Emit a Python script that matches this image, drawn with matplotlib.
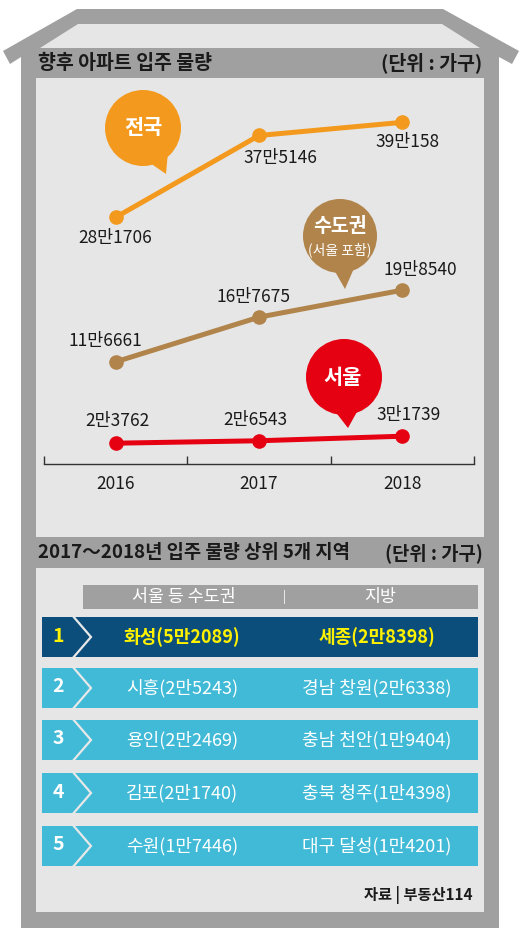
import matplotlib
matplotlib.use('Agg')
import matplotlib.pyplot as plt
from matplotlib.patches import Polygon, Rectangle, Circle

plt.rcParams['font.family'] = ['Noto Sans CJK KR', 'DejaVu Sans']

# data
years = ['2016', '2017', '2018']
nationwide = [281706, 375146, 390158]
capital = [116661, 167675, 198540]
seoul = [23762, 26543, 31739]

ranks = ['1', '2', '3', '4', '5']
capital_names = ['화성', '시흥', '용인', '김포', '수원']
capital_vals = [52089, 25243, 22469, 21740, 17446]
local_names = ['세종', '경남 창원', '충남 천안', '충북 청주', '대구 달성']
local_vals = [28398, 26338, 19404, 14398, 14201]

GRAY = '#a0a0a0'
LIGHT = '#e6e6e6'
ORANGE = '#f39a1e'
BROWN = '#b0844b'
RED = '#e50012'
DARKBLUE = '#0b4e7c'
LIGHTBLUE = '#40bad6'
YELLOW = '#fff200'


def fmt(v):
    man, rest = divmod(v, 10000)
    return f'{man}만{rest}' if rest else f'{man}만'


W, H = 531, 935
fig = plt.figure(figsize=(W / 100, H / 100), dpi=100)
fig.patch.set_facecolor('white')

bg = fig.add_axes([0, 0, 1, 1])
bg.set_xlim(0, W)
bg.set_ylim(H, 0)
bg.axis('off')

# house frame
bg.add_patch(Polygon([(3, 51), (77, 9), (443, 9), (519, 51), (512, 64), (499, 57),
                      (499, 928), (21, 928), (21, 57), (10, 64)],
                     closed=True, fc=GRAY, ec='none'))
bg.add_patch(Polygon([(40, 48), (78, 24), (442, 24), (480, 48)], closed=True, fc=LIGHT, ec='none'))
bg.add_patch(Rectangle((36, 78), 448, 459, fc=LIGHT, ec='none'))
bg.add_patch(Rectangle((36, 568), 448, 344, fc=LIGHT, ec='none'))

bg.text(38, 63, '향후 아파트 입주 물량', fontsize=14, fontweight='bold', color='#1a1a1a', va='center')
bg.text(482, 63, '(단위 : 가구)', fontsize=14, fontweight='bold', color='#1a1a1a', va='center', ha='right')
bg.text(38, 553, '2017～2018년 입주 물량 상위 5개 지역', fontsize=13.5, fontweight='bold', color='#1a1a1a', va='center')
bg.text(483, 553, '(단위 : 가구)', fontsize=13.5, fontweight='bold', color='#1a1a1a', va='center', ha='right')


# speech bubbles
def bubble(cx, cy, r, tail, color):
    bg.add_patch(Circle((cx, cy), r, fc=color, ec='none'))
    bg.add_patch(Polygon(tail, closed=True, fc=color, ec='none'))


bubble(143, 128, 38, [(150, 163), (166, 174), (168, 152)], ORANGE)
bg.text(143, 128, '전국', fontsize=15, fontweight='bold', color='white', ha='center', va='center')
bubble(340, 236, 37, [(333, 268), (345, 289), (355, 266)], BROWN)
bg.text(340, 227, '수도권', fontsize=14, fontweight='bold', color='white', ha='center', va='center')
bg.text(340, 250, '(서울 포함)', fontsize=10, color='white', ha='center', va='center')
bubble(344, 377, 38, [(334, 410), (348, 428), (358, 410)], RED)
bg.text(343, 378, '서울', fontsize=15, fontweight='bold', color='white', ha='center', va='center')

# line chart
ax = fig.add_axes([44 / W, 1 - 464 / H, 430 / W, 386 / H])
ax.set_facecolor('none')
ax.set_xlim(-0.5, 2.5)
ax.set_ylim(0, 440800)
x = range(len(years))
for vals, c in [(nationwide, ORANGE), (capital, BROWN), (seoul, RED)]:
    ax.plot(x, vals, color=c, lw=3.6, marker='o', ms=9.5, clip_on=False, zorder=3)

offsets = {
    'n': [(0, -21), (21, -23), (5, -20)],
    'c': [(-10, 21), (-6, 20), (18, 20)],
    's': [(2, 22), (-4, 21), (6, 21)],
}
for key, vals in [('n', nationwide), ('c', capital), ('s', seoul)]:
    for i, v in enumerate(vals):
        ax.annotate(fmt(v), (i, v), xytext=offsets[key][i], textcoords='offset pixels',
                    ha='center', va='center', fontsize=12.5, color='#1a1a1a')

for s in ['top', 'left', 'right']:
    ax.spines[s].set_visible(False)
ax.spines['bottom'].set_color('#333333')
ax.spines['bottom'].set_linewidth(1)
ax.set_yticks([])
ax.set_xticks([-0.5, 0.5, 1.5, 2.5])
ax.set_xticklabels([])
ax.tick_params(axis='x', which='major', direction='in', length=5.8, width=1, color='#333333')
ax.set_xticks([0, 1, 2], minor=True)
ax.set_xticklabels(years, minor=True)
ax.tick_params(axis='x', which='minor', length=0, pad=8, labelsize=12.5, labelcolor='#1a1a1a')

# ranking table
bg.add_patch(Rectangle((83, 585), 395, 24, fc=GRAY, ec='none'))
bg.text(184, 597, '서울 등 수도권', fontsize=12.5, color='white', ha='center', va='center')
bg.text(284, 597, '|', fontsize=9, color='white', ha='center', va='center')
bg.text(380, 597, '지방', fontsize=12.5, color='white', ha='center', va='center')

row_tops = [617, 668, 720, 773, 826]
for i, top in enumerate(row_tops):
    first = i == 0
    fc = DARKBLUE if first else LIGHTBLUE
    tc = YELLOW if first else 'white'
    fw = 'bold' if first else 'normal'
    bg.add_patch(Rectangle((42, top), 436, 40, fc=fc, ec='none'))
    mid = top + 20
    bg.plot([72, 91, 72], [top - 2, mid, top + 42], color='#e8e8e8', lw=1.6, solid_joinstyle='miter')
    bg.text(58, mid - 1, ranks[i], fontsize=14, fontweight='bold', color=tc, ha='center', va='center')
    bg.text(182, mid, f'{capital_names[i]}({fmt(capital_vals[i])})', fontsize=13,
            fontweight=fw, color=tc, ha='center', va='center')
    bg.text(377, mid, f'{local_names[i]}({fmt(local_vals[i])})', fontsize=13,
            fontweight=fw, color=tc, ha='center', va='center')

bg.text(473, 895, '자료 | 부동산114', fontsize=11, fontweight='bold', color='#1a1a1a', ha='right', va='center')

fig.savefig('out.png', dpi=100)
